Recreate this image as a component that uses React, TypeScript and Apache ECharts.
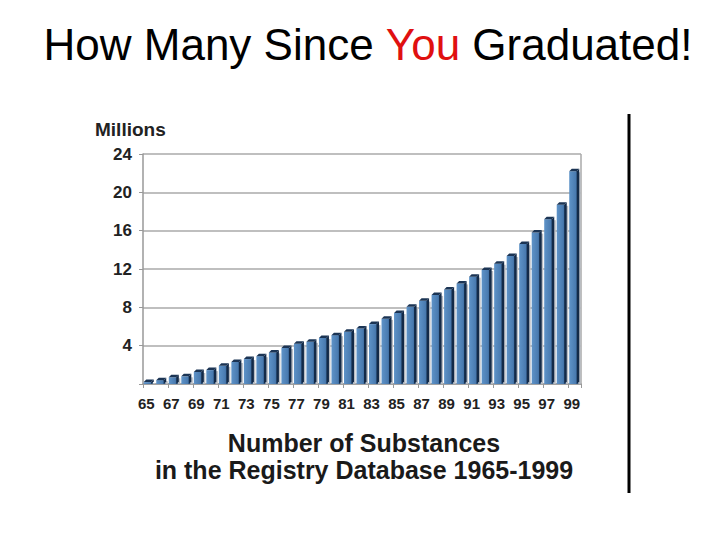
import React, { useEffect, useRef } from "react";
import * as echarts from "echarts";

const years: string[] = [
  "65","66","67","68","69","70","71","72","73","74","75","76","77","78","79","80","81",
  "82","83","84","85","86","87","88","89","90","91","92","93","94","95","96","97","98","99",
];
const millions: number[] = [
  0.2, 0.4, 0.7, 0.8, 1.25, 1.45, 1.9, 2.3, 2.6, 2.9, 3.3, 3.75, 4.2, 4.4, 4.8, 5.1, 5.45,
  5.8, 6.25, 6.8, 7.4, 8.05, 8.7, 9.3, 9.85, 10.5, 11.2, 11.9, 12.55, 13.35, 14.6, 15.8, 17.2, 18.7, 22.2,
];
const yTicks = { min: 0, max: 24, interval: 4 };
const titleParts = ["How Many Since ", "You", " Graduated!"];
const subtitleLines = ["Number of Substances", "in the Registry Database 1965-1999"];

export default function App() {
  const ref = useRef<HTMLDivElement>(null);
  useEffect(() => {
    if (!ref.current) return;
    const chart = echarts.init(ref.current, undefined, { renderer: "svg" });
    const font = "Liberation Sans, Arial, Helvetica, sans-serif";
    chart.setOption({
      animation: false,
      backgroundColor: "#ffffff",
      title: [
        {
          text: `{a|${titleParts[0]}}{r|${titleParts[1]}}{a|${titleParts[2]}}`,
          left: 363,
          top: 17,
          textAlign: "center",
          textStyle: {
            fontWeight: "normal",
            rich: {
              a: { fontFamily: font, fontSize: 44, fontWeight: "normal", color: "#000000" },
              r: { fontFamily: font, fontSize: 44, fontWeight: "normal", color: "#e01010" },
            },
          },
        },
        {
          text: subtitleLines.join("\n"),
          left: 359,
          top: 424,
          textAlign: "center",
          textStyle: {
            fontFamily: font,
            fontSize: 25,
            fontWeight: "bold",
            color: "#1a1a1a",
            lineHeight: 27,
          },
        },
      ],
      grid: { left: 143, right: 139, top: 154, bottom: 156 },
      xAxis: {
        type: "category",
        data: years,
        axisLine: { show: true, lineStyle: { color: "#999999", width: 1.5 } },
        axisTick: { show: true, alignWithLabel: false, length: 4, lineStyle: { color: "#999999" } },
        axisLabel: {
          interval: 1,
          fontFamily: font,
          fontWeight: "bold",
          fontSize: 15,
          color: "#222222",
          margin: 12,
          padding: [0, 6, 0, 0],
        },
      },
      yAxis: {
        type: "value",
        min: yTicks.min,
        max: yTicks.max,
        interval: yTicks.interval,
        name: "Millions",
        nameLocation: "end",
        nameGap: 15,
        nameTextStyle: {
          fontFamily: font,
          fontWeight: "bold",
          fontSize: 19,
          color: "#222222",
          align: "left",
          padding: [0, 0, 0, -48],
        },
        axisLine: { show: true, lineStyle: { color: "#999999", width: 1.5 } },
        axisTick: { show: true, length: 4, lineStyle: { color: "#999999" } },
        axisLabel: {
          fontFamily: font,
          fontWeight: "bold",
          fontSize: 17,
          color: "#222222",
          margin: 11,
          formatter: (v: number) => (v === 0 ? "" : String(v)),
        },
        splitLine: { show: true, lineStyle: { color: "#aaaaaa", width: 1.5 } },
      },
      graphic: [
        {
          type: "line",
          shape: { x1: 581, y1: 154, x2: 581, y2: 384 },
          style: { stroke: "#aaaaaa", lineWidth: 1.5 },
        },
        {
          type: "line",
          shape: { x1: 629, y1: 114, x2: 629, y2: 493 },
          style: { stroke: "#000000", lineWidth: 3 },
        },
      ],
      series: [
        {
          type: "custom",
          data: millions.map((v, i) => [i, v]),
          encode: { x: 0, y: 1 },
          renderItem: (params: any, api: any) => {
            const idx = api.value(0);
            const v = api.value(1);
            const top = api.coord([idx, v]);
            const base = api.coord([idx, 0]);
            const band = api.size([1, 0])[0];
            const bw = band * 0.72;
            const d = 2.5;
            const left = top[0] - bw / 2 - 1;
            const right = left + bw;
            return {
              type: "group",
              children: [
                {
                  type: "rect",
                  shape: { x: right, y: top[1] + 1, width: 2.5, height: base[1] - top[1] - 1 },
                  style: { fill: "#b8bcc2" },
                },
                {
                  type: "rect",
                  shape: { x: left, y: top[1], width: bw, height: base[1] - top[1] },
                  style: {
                    fill: new echarts.graphic.LinearGradient(0, 0, 1, 0, [
                      { offset: 0, color: "#5e93c8" },
                      { offset: 0.7, color: "#4a7bb0" },
                      { offset: 1, color: "#2c5685" },
                    ]),
                  },
                },
                {
                  type: "polygon",
                  shape: {
                    points: [
                      [right - 1.5, top[1]],
                      [right - 1.5 + d, top[1] - d],
                      [right - 1.5 + d, base[1] - d],
                      [right - 1.5, base[1]],
                    ],
                  },
                  style: { fill: "#132a48" },
                },
                {
                  type: "polygon",
                  shape: {
                    points: [
                      [left, top[1]],
                      [left + d, top[1] - d],
                      [right - 1.5 + d, top[1] - d],
                      [right - 1.5, top[1]],
                    ],
                  },
                  style: { fill: "#1b3454" },
                },
              ],
            };
          },
        },
      ],
    });
    return () => chart.dispose();
  }, []);
  return (
    <div
      ref={ref}
      style={{ position: "fixed", left: 0, top: 0, width: 720, height: 540 }}
    />
  );
}
